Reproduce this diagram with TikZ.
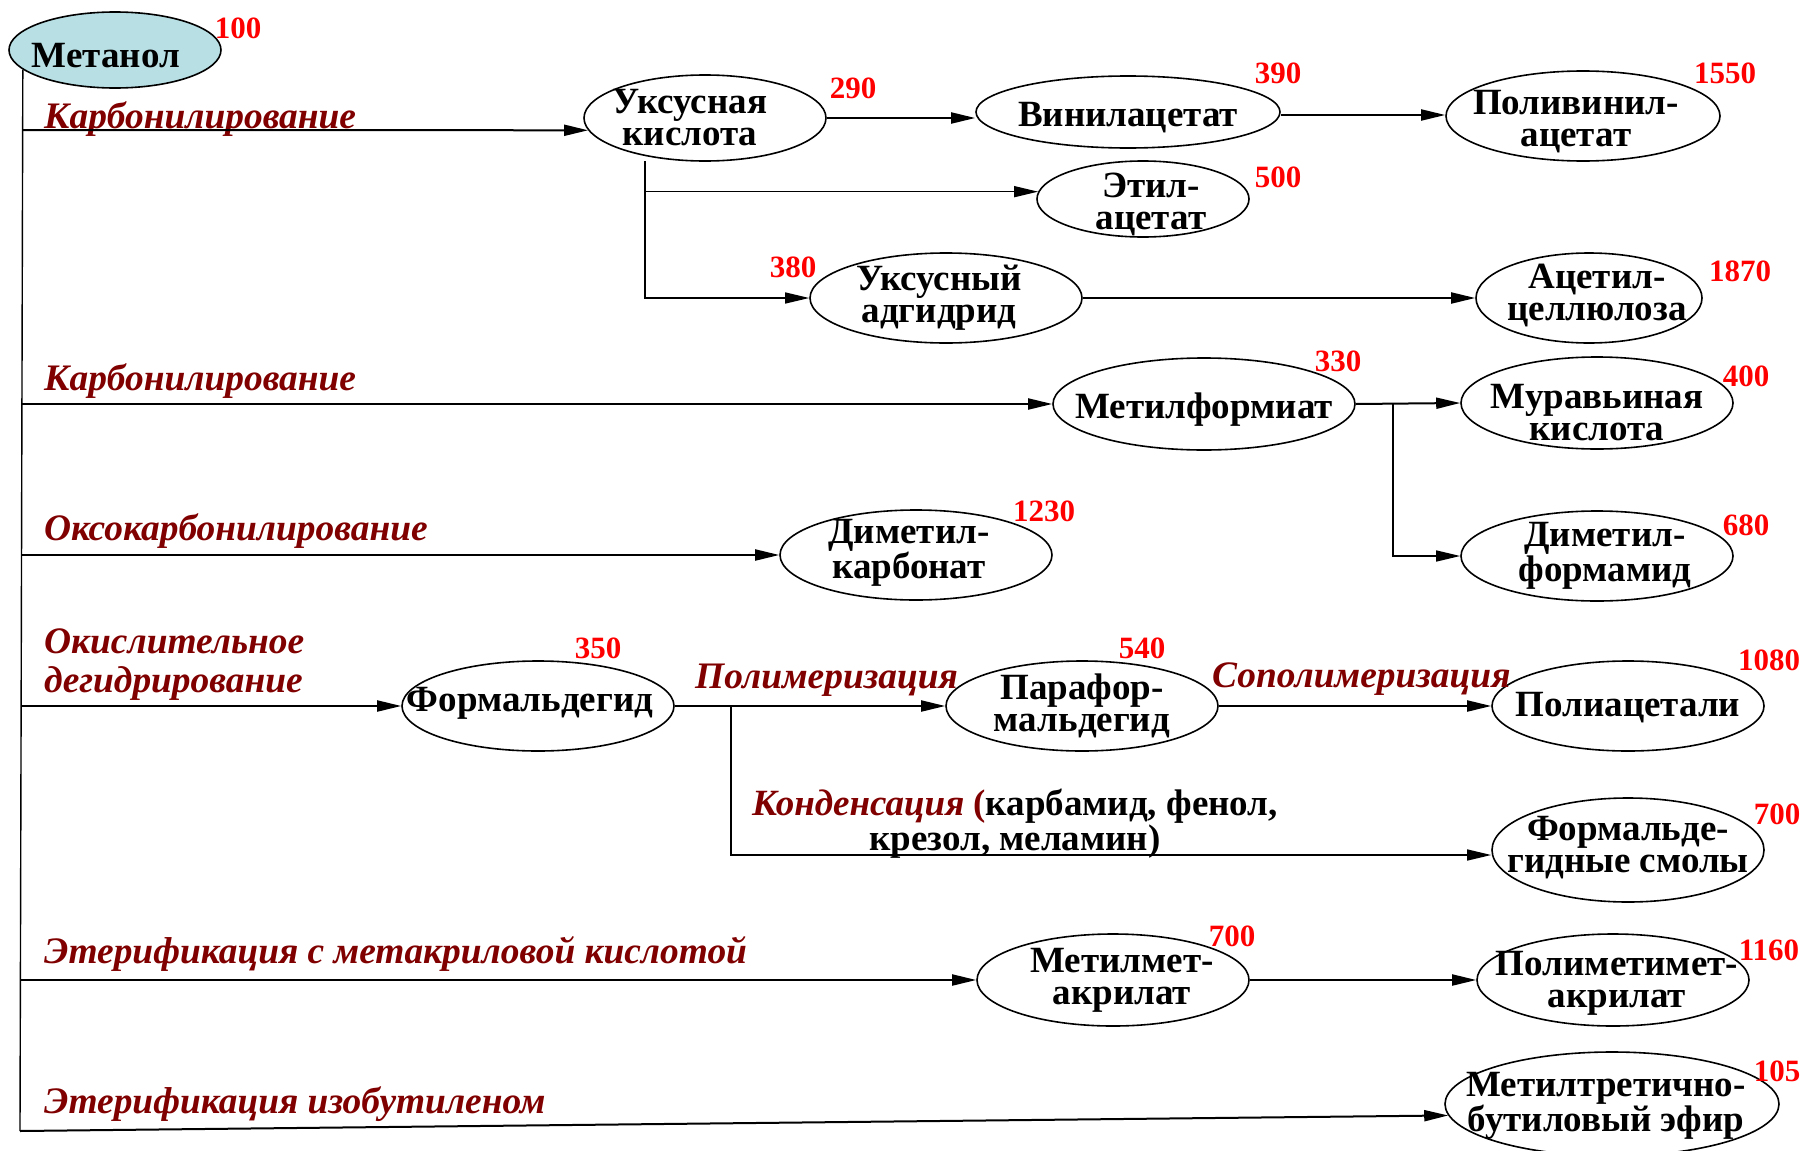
\documentclass[tikz,border=0pt]{standalone}
\usepackage{fontspec}
\setmainfont{Liberation Serif}
\usetikzlibrary{shapes.geometric,arrows.meta}

\definecolor{lbl}{RGB}{128,0,0}
\definecolor{methfill}{RGB}{184,224,228}

\tikzset{
  chemtext/.style={font=\fontsize{37}{32}\selectfont\bfseries, align=center, inner sep=0pt},
  chem/.style n args={4}{ellipse, draw, line width=1.6pt, inner sep=0pt,
    minimum width=#1, minimum height=#2, label={[chemtext,#4]center:{#3}}},
  proc/.style={text=lbl, font=\fontsize{37.4}{39}\selectfont\bfseries\itshape, anchor=base west, inner sep=0pt},
  cost/.style={text=red, font=\fontsize{31}{31}\selectfont\bfseries, inner sep=0pt},
  arr/.style={line width=2pt, -{Triangle[length=24pt,width=11pt]}},
  slim/.style={line width=1.4pt},
}

\begin{document}
\begin{tikzpicture}[x=1pt, y=-1pt]
\useasboundingbox (0,0) rectangle (1805,1151);

\node[chem={212}{76}{Метанол}{xshift=-9pt,yshift=-6pt}, fill=methfill] (meth) at (115,50) {};
\node[chem={242}{86}{Уксусная\\кислота}{xshift=-15pt}] (acid) at (705,118) {};
\node[chem={304}{72}{Винилацетат}{yshift=-6pt}] (vinyl) at (1128,112) {};
\node[chem={274}{90}{Поливинил-\\ацетат}{xshift=-7pt,yshift=-6pt}] (pva) at (1583,116) {};
\node[chem={212}{76}{Этил-\\ацетат}{xshift=8pt,yshift=-5pt}] (ethyl) at (1143,199) {};
\node[chem={272}{90}{Уксусный\\адгидрид}{xshift=-7pt}] (anhyd) at (946,298) {};
\node[chem={226}{90}{Ацетил-\\целлюлоза}{xshift=8pt,yshift=3pt}] (cell) at (1589,298) {};
\node[chem={302}{92}{Метилформиат}{yshift=-6pt}] (mform) at (1204,404) {};
\node[chem={272}{92}{Муравьиная\\кислота}{yshift=-10pt}] (formic) at (1597,403) {};
\node[chem={272}{90}{Диметил-\\формамид}{xshift=8pt}] (dmf) at (1597,556) {};
\node[chem={272}{90}{Диметил-\\карбонат}{xshift=-7pt,yshift=2pt}] (dmc) at (916,555) {};
\node[chem={272}{90}{Формальдегид}{xshift=-8pt,yshift=3pt}] (form) at (538,706) {};
\node[chem={272}{90}{Парафор-\\мальдегид}{}] (para) at (1082,706) {};
\node[chem={272}{90}{Полиацетали}{yshift=-2pt}] (polyac) at (1628,706) {};
\node[chem={272}{104}{Формальде-\\гидные смолы}{yshift=2pt}] (resin) at (1628,850) {};
\node[chem={272}{92}{Метилмет-\\акрилат}{xshift=9pt}] (mma) at (1113,980) {};
\node[chem={272}{92}{Полиметимет-\\акрилат}{xshift=4pt,yshift=-3pt}] (pmma) at (1613,980) {};
\node[chem={334}{104}{Метилтретично-\\бутиловый эфир}{xshift=-6pt,yshift=-2pt}] (mtbe) at (1612,1104) {};

\node[cost] (c-meth) at (238,28) {100};
\node[cost] (c-acid) at (853,88) {290};
\node[cost] (c-vinyl) at (1278,73) {390};
\node[cost] (c-pva) at (1725,73) {1550};
\node[cost] (c-ethyl) at (1278,177) {500};
\node[cost] (c-anhyd) at (793,267) {380};
\node[cost] (c-cell) at (1740,271) {1870};
\node[cost] (c-mform) at (1338,361) {330};
\node[cost] (c-formic) at (1746,376) {400};
\node[cost] (c-dmf) at (1746,525) {680};
\node[cost] (c-dmc) at (1044,511) {1230};
\node[cost] (c-form) at (598,648) {350};
\node[cost] (c-para) at (1142,648) {540};
\node[cost] (c-polyac) at (1769,660) {1080};
\node[cost] (c-resin) at (1777,814) {700};
\node[cost] (c-mma) at (1232,936) {700};
\node[cost] (c-pmma) at (1769,950) {1160};
\node[cost] (c-mtbe) at (1777,1071) {105};

\node[proc] (p-carb1) at (44,128) {Карбонилирование};
\node[proc] (p-carb2) at (44,390) {Карбонилирование};
\node[proc] (p-oxo) at (44,540) {Оксокарбонилирование};
\node[proc, align=left] (p-oxid) at (44,692) {Окислительное\\дегидрирование};
\node[proc] (p-poly) at (695,688) {Полимеризация};
\node[proc] (p-copoly) at (1212,687) {Сополимеризация};
\node[proc] (p-ester1) at (44,963) {Этерификация с метакриловой кислотой};
\node[proc] (p-ester2) at (44,1113) {Этерификация изобутиленом};
\node[anchor=base, align=center, inner sep=0pt, font=\fontsize{37}{31}\selectfont\bfseries] (p-cond) at (1015,850)
  {{\color{lbl}\itshape Конденсация} {\color{lbl}(}карбамид, фенол,\\крезол, меламин)};

\coordinate (tb) at (20,1131);
\coordinate (j1) at (23,130);
\coordinate (j2) at (22,404);
\coordinate (j3) at (22,555);
\coordinate (j4) at (21,706);
\coordinate (j5) at (21,980);
\coordinate (ka) at (645,161);
\coordinate (kf) at (1393,404);
\coordinate (kp) at (731,706);

\draw[slim] (meth.192) -- (tb);
\draw[arr] (j1) -- (acid.186);
\draw[arr] (acid.east) -- (acid.east -| vinyl.west);
\draw[arr] ([yshift=-3pt]vinyl.east) coordinate (vr) -- (vr -| pva.west);
\draw[arr, slim] (ka) |- (anhyd.west);
\draw[arr, slim] (ka |- ethyl.176) -- (ethyl.176);
\draw[arr] (anhyd) -- (cell);
\draw[arr] (j2) -- (mform.west);
\draw[arr] (mform.east) -- (formic.west);
\draw[arr, slim] (kf) |- (dmf.west);
\draw[arr] (j3) -- (dmc.west);
\draw[arr] (j4) -- (form.west);
\draw[arr] (form.east) -- (para.west);
\draw[arr] (para.east) -- (polyac.west);
\draw[arr, slim] (kp) |- ([yshift=-5pt]resin.west);
\draw[arr] (j5) -- (mma.west);
\draw[arr] (mma.east) -- (pmma.west);
\draw[arr] (tb) -- (mtbe.184);
\end{tikzpicture}
\end{document}
